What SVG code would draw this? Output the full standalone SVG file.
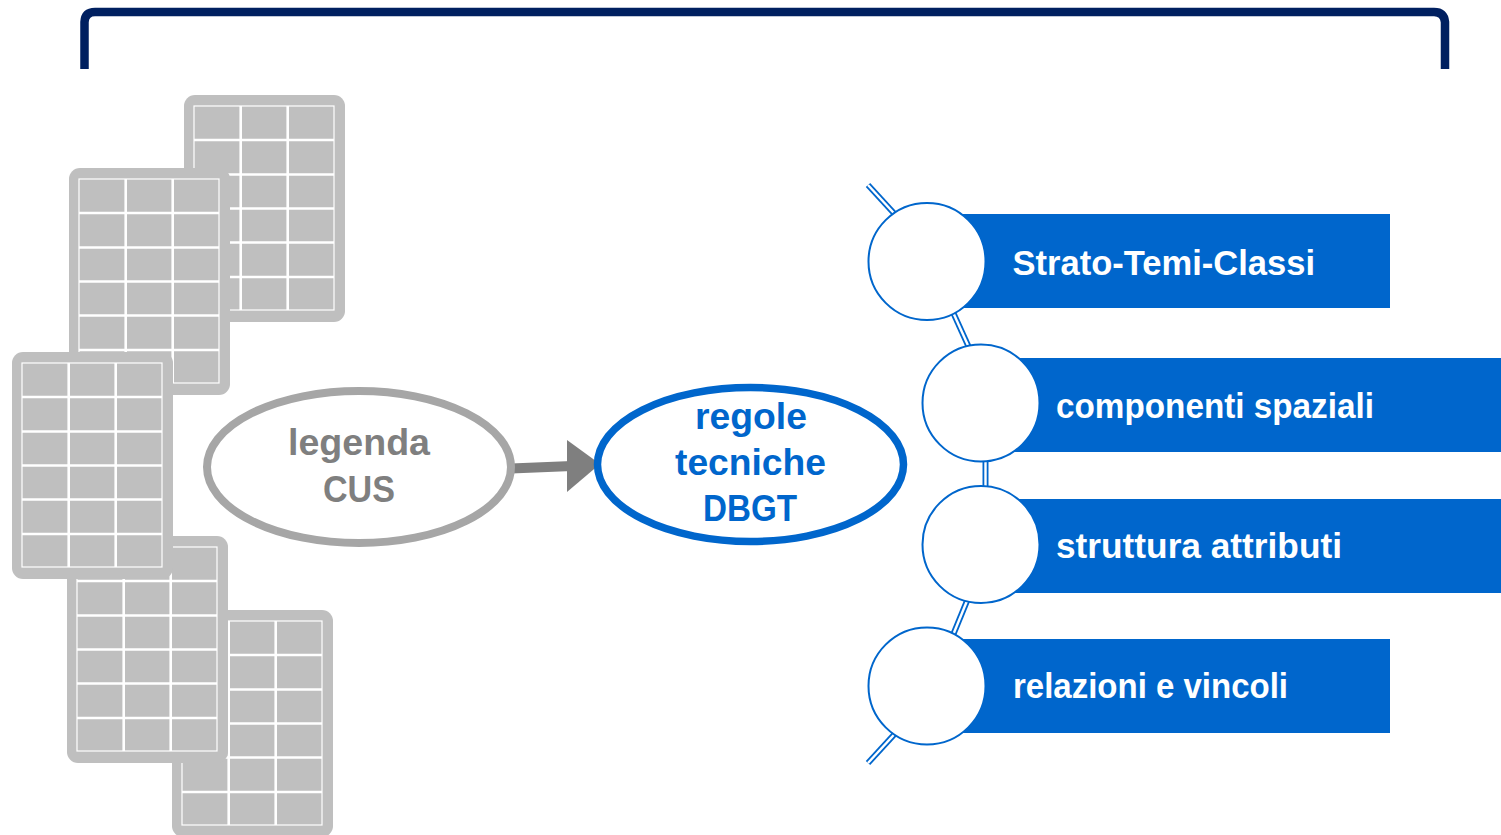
<svg xmlns="http://www.w3.org/2000/svg" xmlns:xlink="http://www.w3.org/1999/xlink" width="1501" height="835" viewBox="0 0 1501 835">
<style>
.sheetbg{fill:#bfbfbf}
.sheetin{fill:none;stroke:#ffffff;stroke-width:1.2}
.grid{stroke:#ffffff;stroke-width:2.6}
.bar{fill:#0066cc}
.circ{fill:#ffffff;stroke:#0066cc;stroke-width:2}
.lnk{stroke:#0066cc;stroke-width:6;fill:none}
.lnkin{stroke:#ffffff;stroke-width:2.4;fill:none}
.lbl{font-family:"Liberation Sans",Arial,sans-serif;font-weight:bold;font-size:35px;fill:#ffffff}
.ctr{font-family:"Liberation Sans",Arial,sans-serif;font-weight:bold;font-size:36px;text-anchor:middle}
</style>
<defs>
<g id="sheet">
<rect class="sheetbg" x="0" y="0" width="161" height="227" rx="11"/>
<rect class="sheetin" x="10" y="11" width="140" height="204"/>
<line class="grid" x1="56.7" y1="11" x2="56.7" y2="215"/>
<line class="grid" x1="103.7" y1="11" x2="103.7" y2="215"/>
<line class="grid" x1="10" y1="45" x2="150" y2="45"/>
<line class="grid" x1="10" y1="79.5" x2="150" y2="79.5"/>
<line class="grid" x1="10" y1="113.5" x2="150" y2="113.5"/>
<line class="grid" x1="10" y1="147.5" x2="150" y2="147.5"/>
<line class="grid" x1="10" y1="182" x2="150" y2="182"/>
</g>
</defs>
<g id="bracket">
<path d="M84.5 69 L84.5 22 Q85 12 95 12 L1434 12 Q1444 12 1445 22 L1445 69" fill="none" stroke="#002060" stroke-width="8.5"/>
</g>
<g id="sheets">
<use xlink:href="#sheet" href="#sheet" x="184" y="95"/>
<use xlink:href="#sheet" href="#sheet" x="69" y="168"/>
<use xlink:href="#sheet" href="#sheet" x="172" y="610"/>
<use xlink:href="#sheet" href="#sheet" x="67" y="536"/>
<use xlink:href="#sheet" href="#sheet" x="12" y="352"/>
</g>
<g id="connectors">
<line x1="511" y1="468.5" x2="572" y2="466" stroke="#7f7f7f" stroke-width="10"/>
<polygon points="567,440 600,464 567,492" fill="#7f7f7f"/>
<g>
<line class="lnk" x1="868" y1="185" x2="902" y2="222"/>
<line class="lnkin" x1="868" y1="185" x2="902" y2="222"/>
<line class="lnk" x1="952" y1="310" x2="971" y2="352"/>
<line class="lnkin" x1="952" y1="310" x2="971" y2="352"/>
<line class="lnk" x1="985.5" y1="455" x2="985.5" y2="492"/>
<line class="lnkin" x1="985.5" y1="455" x2="985.5" y2="492"/>
<line class="lnk" x1="969" y1="596" x2="951" y2="640"/>
<line class="lnkin" x1="969" y1="596" x2="951" y2="640"/>
<line class="lnk" x1="902" y1="726" x2="868" y2="763"/>
<line class="lnkin" x1="902" y1="726" x2="868" y2="763"/>
</g>
</g>
<g id="legenda">
<ellipse cx="359" cy="467" rx="152" ry="76" fill="#ffffff" stroke="#a6a6a6" stroke-width="8"/>
<text class="ctr" fill="#7f7f7f" x="359" y="455" textLength="142" lengthAdjust="spacingAndGlyphs">legenda</text>
<text class="ctr" fill="#7f7f7f" x="359" y="502" textLength="72" lengthAdjust="spacingAndGlyphs">CUS</text>
</g>
<g id="regole">
<ellipse cx="750.5" cy="464.5" rx="153" ry="77" fill="#ffffff" stroke="#0066cc" stroke-width="7.5"/>
<text class="ctr" fill="#0066cc" x="751" y="429" textLength="112" lengthAdjust="spacingAndGlyphs">regole</text>
<text class="ctr" fill="#0066cc" x="750.5" y="475" textLength="151" lengthAdjust="spacingAndGlyphs">tecniche</text>
<text class="ctr" fill="#0066cc" x="750" y="521" textLength="94" lengthAdjust="spacingAndGlyphs">DBGT</text>
</g>
<g id="item1">
<rect class="bar" x="950" y="214" width="440" height="94"/>
<circle class="circ" cx="927" cy="261.5" r="58.5"/>
<text class="lbl" x="1012.5" y="275" textLength="302.5" lengthAdjust="spacingAndGlyphs">Strato-Temi-Classi</text>
</g>
<g id="item2">
<rect class="bar" x="1000" y="358" width="501" height="94"/>
<circle class="circ" cx="981" cy="403" r="58.5"/>
<text class="lbl" x="1056" y="417.5" textLength="318" lengthAdjust="spacingAndGlyphs">componenti spaziali</text>
</g>
<g id="item3">
<rect class="bar" x="1000" y="499" width="501" height="94"/>
<circle class="circ" cx="981" cy="544.5" r="58.5"/>
<text class="lbl" x="1056" y="558" textLength="286" lengthAdjust="spacingAndGlyphs">struttura attributi</text>
</g>
<g id="item4">
<rect class="bar" x="950" y="639" width="440" height="94"/>
<circle class="circ" cx="927" cy="686" r="58.5"/>
<text class="lbl" x="1013" y="698" textLength="275" lengthAdjust="spacingAndGlyphs">relazioni e vincoli</text>
</g>
</svg>
